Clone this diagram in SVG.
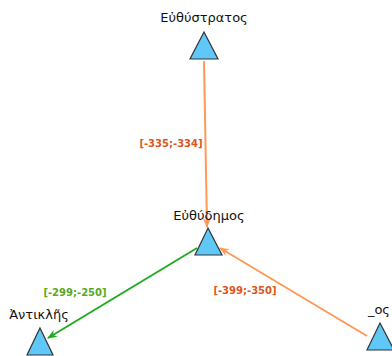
<svg xmlns="http://www.w3.org/2000/svg" width="392" height="356" viewBox="0 0 392 356">
<defs>
<marker id="ao" markerWidth="10" markerHeight="8" refX="9" refY="4" orient="auto" markerUnits="userSpaceOnUse"><path d="M0,0 L10,4 L0,8 L3,4 Z" fill="#ff9955"/></marker>
<marker id="ag" markerWidth="10" markerHeight="8" refX="9" refY="4" orient="auto" markerUnits="userSpaceOnUse"><path d="M0,0 L10,4 L0,8 L3,4 Z" fill="#22aa22"/></marker>
</defs>
<style>
.tri{fill:#5fc8f8;stroke:#333;stroke-width:1.2}
.nl{font-family:"DejaVu Sans",sans-serif;font-size:13px;fill:#111;text-anchor:middle}
.el{font-family:"DejaVu Sans",sans-serif;font-size:10px;font-weight:bold;text-anchor:middle}
.o{stroke:#ff9955;stroke-width:2;fill:none}
.g{stroke:#22aa22;stroke-width:2;fill:none}
</style>
<rect width="392" height="356" fill="#fff"/>
<g id="edges">
<path class="o" d="M204,61 L207,227" marker-end="url(#ao)"/>
<text class="el" x="171" y="147" fill="#dd5522">[-335;-334]</text>
<path class="o" d="M367,336 L220,248" marker-end="url(#ao)"/>
<text class="el" x="245" y="294" fill="#dd5522">[-399;-350]</text>
<path class="g" d="M197,248 L48,338" marker-end="url(#ag)"/>
<text class="el" x="75" y="296" fill="#55aa22">[-299;-250]</text>
</g>
<g id="n1"><path class="tri" d="M204,32 L218,59 L190,59 Z"/><text class="nl" x="204" y="22">Εὐθύστρατος</text></g>
<g id="n2"><path class="tri" d="M208,228 L222,255 L195,255 Z"/><text class="nl" x="209" y="220">Εὐθύδημος</text></g>
<g id="n3"><path class="tri" d="M40,328 L53,355 L27,355 Z"/><text class="nl" x="39" y="319">Ἀντικλῆς</text></g>
<g id="n4"><path class="tri" d="M380,323 L394,350 L367,350 Z"/><text class="nl" x="390" y="314" style="text-anchor:end">_ος</text></g>
</svg>
